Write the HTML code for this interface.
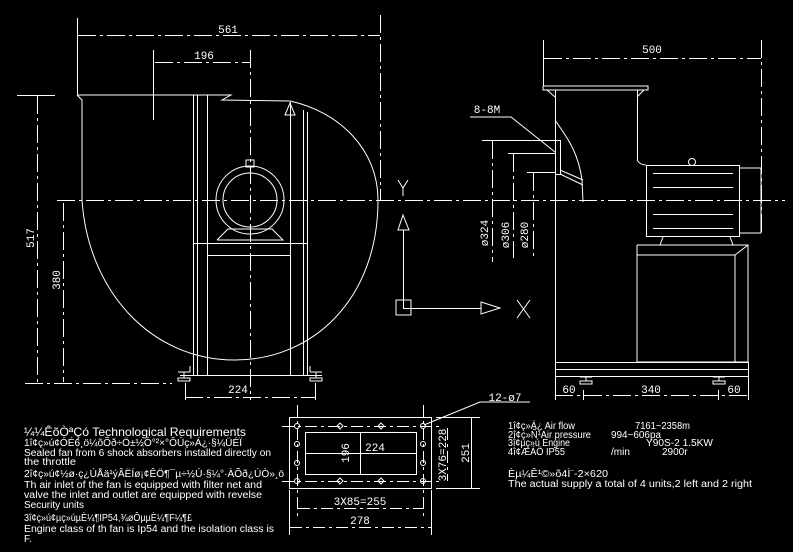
<!DOCTYPE html>
<html><head><meta charset="utf-8"><style>
html,body{margin:0;padding:0;background:#000;width:793px;height:552px;overflow:hidden}
svg{display:block}
text{font-family:"Liberation Sans",sans-serif;fill:#fff}
.d{font-family:"Liberation Mono",monospace;font-size:11px}
</style></head><body>
<svg width="793" height="552" viewBox="0 0 793 552" xmlns="http://www.w3.org/2000/svg">
<g stroke="#fff" stroke-width="1" fill="none">
<line x1="57" y1="200.5" x2="785" y2="200.5" stroke-dasharray="18,4,3,4"/>
<line x1="250.5" y1="50" x2="250.5" y2="400" stroke-dasharray="18,4,3,4"/>
<line x1="77.5" y1="18" x2="77.5" y2="95"/>
<line x1="380.5" y1="15" x2="380.5" y2="200" stroke-dasharray="18,4,3,4"/>
<line x1="78" y1="35.5" x2="380" y2="35.5" stroke-dasharray="18,4,3,4"/>
<line x1="153.5" y1="50" x2="153.5" y2="120"/>
<line x1="155" y1="62.5" x2="250" y2="62.5" stroke-dasharray="18,4,3,4"/>
<line x1="17" y1="95.5" x2="55" y2="95.5"/>
<line x1="37.5" y1="96" x2="37.5" y2="382" stroke-dasharray="18,4,3,4"/>
<line x1="63.5" y1="203" x2="63.5" y2="382" stroke-dasharray="18,4,3,4"/>
<line x1="25" y1="383.5" x2="172" y2="383.5" stroke-dasharray="18,4,3,4"/>
<line x1="185" y1="397.5" x2="315" y2="397.5" stroke-dasharray="18,4,3,4"/>
<line x1="185.5" y1="383" x2="185.5" y2="400"/>
<line x1="315.5" y1="383" x2="315.5" y2="400"/>
<polyline points="77,95 231,95 222,100 290,101"/>
<polyline points="77,95 82,100 82,200"/>
<path d="M290,101 C340,112 378,150 378,200 C378,300 312,360 235,360 C150,360 88,290 82,200"/>
<line x1="193.5" y1="95" x2="193.5" y2="376"/>
<line x1="197.5" y1="95" x2="197.5" y2="376"/>
<line x1="207.5" y1="95" x2="207.5" y2="376"/>
<line x1="290.5" y1="102" x2="290.5" y2="376"/>
<line x1="303.5" y1="110" x2="303.5" y2="376"/>
<line x1="307.5" y1="112" x2="307.5" y2="376"/>
<line x1="193" y1="243.5" x2="307" y2="243.5"/>
<line x1="207" y1="255.5" x2="290" y2="255.5"/>
<line x1="180" y1="375.5" x2="322" y2="375.5"/>
<polygon points="285,115 290,103 295,115"/>
<circle cx="250" cy="200" r="34"/>
<circle cx="250" cy="200" r="27"/>
<polyline points="217,240 228,229 272,229 283,240 217,240"/>
<rect x="246" y="160" width="8" height="7"/>
<path d="M178,372 h12 v-6 M184,372 v6 h-6 v3 h12 v-3 h-6"/>
<path d="M310,372 h12 M316,372 v6 h-6 v3 h12 v-3 h-6 M310,372 v-6"/>
<line x1="403.5" y1="230" x2="403.5" y2="308"/>
<polygon points="398,230 403,215 409,230"/>
<rect x="396" y="300" width="15" height="15"/>
<line x1="403" y1="308.5" x2="481" y2="308.5"/>
<polygon points="481,302 500,308 481,314"/>
<path d="M517,300 L530,318 M530,300 L517,318"/>
<path d="M398,180 L403,188 L408,180 M403,188 V196"/>
<line x1="543.5" y1="40" x2="543.5" y2="86"/>
<line x1="761.5" y1="40" x2="761.5" y2="233" stroke-dasharray="18,4,3,4"/>
<line x1="544" y1="58.5" x2="761" y2="58.5" stroke-dasharray="18,4,3,4"/>
<polyline points="543,86 648,86 648,90 543,90 543,86"/>
<path d="M547,90 L555,97 M644,90 L637,97"/>
<line x1="555.5" y1="90" x2="555.5" y2="362"/>
<line x1="637.5" y1="90" x2="637.5" y2="160"/>
<path d="M637,160 Q640,165 646,165"/>
<rect x="646.5" y="165.5" width="93" height="71"/>
<path d="M740,168 H761 V233 H740"/>
<line x1="653" y1="173.5" x2="733" y2="173.5"/>
<line x1="653" y1="187.5" x2="733" y2="187.5"/>
<line x1="653" y1="214.5" x2="733" y2="214.5"/>
<line x1="653" y1="228.5" x2="733" y2="228.5"/>
<circle cx="692" cy="162" r="3.5"/>
<path d="M663,237 L660,245 M730,237 L733,245"/>
<polyline points="637,245 748,245 748,362 637,362 637,245"/>
<polyline points="637,255 735,255 735,362"/>
<line x1="735" y1="255" x2="748" y2="245"/>
<rect x="555.5" y="362.5" width="193" height="14"/>
<line x1="555" y1="369.5" x2="748" y2="369.5"/>
<path d="M580,377 h12 M586,377 v4 h-6 v3 h12 v-3 h-6 M713,377 h12 M719,377 v4 h-6 v3 h12 v-3 h-6"/>
<line x1="555.5" y1="377" x2="555.5" y2="400"/>
<line x1="748.5" y1="377" x2="748.5" y2="400"/>
<line x1="555" y1="395.5" x2="748" y2="395.5" stroke-dasharray="18,4,3,4"/>
<line x1="583.5" y1="390" x2="583.5" y2="400"/>
<line x1="718.5" y1="390" x2="718.5" y2="400"/>
<path d="M555,120 C565,135 578,150 582,180 L583,202"/>
<rect x="555.5" y="140.5" width="5" height="34"/>
<path d="M560,170 L583,180 M560,174 L583,185"/>
<polyline points="470,117 511,117 555,152"/>
<line x1="482" y1="140.5" x2="555" y2="140.5"/>
<line x1="508" y1="153.5" x2="555" y2="153.5"/>
<line x1="527" y1="172.5" x2="555" y2="172.5"/>
<line x1="492.5" y1="141" x2="492.5" y2="262" stroke-dasharray="18,4,3,4"/>
<line x1="513.5" y1="154" x2="513.5" y2="258" stroke-dasharray="18,4,3,4"/>
<line x1="533.5" y1="173" x2="533.5" y2="258" stroke-dasharray="18,4,3,4"/>
<rect x="289.5" y="417.5" width="142" height="71"/>
<rect x="305.5" y="432.5" width="111" height="42"/>
<line x1="360.5" y1="432" x2="360.5" y2="474"/>
<line x1="305" y1="453.5" x2="416" y2="453.5"/>
<line x1="282" y1="426.5" x2="440" y2="426.5" stroke-dasharray="12,4,3,4"/>
<line x1="282" y1="481.5" x2="440" y2="481.5" stroke-dasharray="12,4,3,4"/>
<line x1="297.5" y1="405" x2="297.5" y2="520" stroke-dasharray="12,4,3,4"/>
<line x1="423.5" y1="405" x2="423.5" y2="520" stroke-dasharray="12,4,3,4"/>
<circle cx="297" cy="426" r="2.5"/><circle cx="297" cy="444" r="2.5"/><circle cx="297" cy="463" r="2.5"/><circle cx="297" cy="481" r="2.5"/>
<circle cx="423" cy="426" r="2.5"/><circle cx="423" cy="444" r="2.5"/><circle cx="423" cy="463" r="2.5"/><circle cx="423" cy="481" r="2.5"/>
<path d="M340,423 l3,3 -3,3 -3,-3z M381,423 l3,3 -3,3 -3,-3z M340,478 l3,3 -3,3 -3,-3z M381,478 l3,3 -3,3 -3,-3z"/>
<polyline points="424,425 480,402 530,402"/>
<line x1="447.5" y1="428" x2="447.5" y2="481" stroke-dasharray="12,4,3,4"/>
<line x1="471.5" y1="418" x2="471.5" y2="488"/>
<line x1="436" y1="417.5" x2="480" y2="417.5"/>
<line x1="436" y1="488.5" x2="480" y2="488.5"/>
<line x1="298" y1="508.5" x2="423" y2="508.5" stroke-dasharray="12,4,3,4"/>
<line x1="289.5" y1="490" x2="289.5" y2="535"/>
<line x1="431.5" y1="490" x2="431.5" y2="535"/>
<line x1="290" y1="527.5" x2="431" y2="527.5" stroke-dasharray="12,4,3,4"/>
</g>
<text class="d" x="228" y="33" text-anchor="middle">561</text>
<text class="d" x="204" y="59" text-anchor="middle">196</text>
<text class="d" x="238" y="393" text-anchor="middle">224</text>
<text class="d" transform="translate(34,238) rotate(-90)" text-anchor="middle">517</text>
<text class="d" transform="translate(60,280) rotate(-90)" text-anchor="middle">380</text>
<text class="d" x="652" y="53" text-anchor="middle">500</text>
<text class="d" x="487" y="113" text-anchor="middle" font-size="10">8-8M</text>
<text class="d" transform="translate(488,233) rotate(-90)" text-anchor="middle" font-size="10">ø324</text>
<text class="d" transform="translate(509,235) rotate(-90)" text-anchor="middle" font-size="10">ø306</text>
<text class="d" transform="translate(528,235) rotate(-90)" text-anchor="middle" font-size="10">ø280</text>
<text class="d" x="569" y="393" text-anchor="middle">60</text>
<text class="d" x="651" y="393" text-anchor="middle">340</text>
<text class="d" x="734" y="393" text-anchor="middle">60</text>
<text class="d" x="505" y="401" text-anchor="middle">12-ø7</text>
<text class="d" x="375" y="451" text-anchor="middle">224</text>
<text class="d" transform="translate(349,453) rotate(-90)" text-anchor="middle">196</text>
<text class="d" transform="translate(446,455) rotate(-90)" text-anchor="middle" font-size="10">3X76=228</text>
<text class="d" transform="translate(469,453) rotate(-90)" text-anchor="middle">251</text>
<text class="d" x="360" y="505" text-anchor="middle">3X85=255</text>
<text class="d" x="360" y="524" text-anchor="middle">278</text>
<g font-size="10">
<text x="24" y="436" font-size="12" textLength="222" lengthAdjust="spacingAndGlyphs">¼¼ÊõÒªÇó   Technological Requirements</text>
<text x="24" y="446" textLength="218" lengthAdjust="spacingAndGlyphs">1î¢ç»ú¢ÓÉ6¸ö¼õÕð÷Ö±½Ó°²×°ÔÚç»Á¿·§¼ÜÉÏ</text>
<text x="24" y="456" textLength="247" lengthAdjust="spacingAndGlyphs">Sealed fan from 6 shock absorbers installed directly on</text>
<text x="24" y="465" textLength="52" lengthAdjust="spacingAndGlyphs">the throttle</text>
<text x="24" y="477" textLength="260" lengthAdjust="spacingAndGlyphs">2î¢ç»ú¢½ø·ç¿ÚÅä¹ýÂËÍø¡¢ÊÖ¶¯µ÷½Ú·§¼°·ÀÕð¿ÚÒ»¸ö</text>
<text x="24" y="488" textLength="238" lengthAdjust="spacingAndGlyphs">Th air inlet of the fan is equipped with filter net and</text>
<text x="24" y="498" textLength="238" lengthAdjust="spacingAndGlyphs">valve the inlet and outlet are equipped with revelse</text>
<text x="24" y="508" textLength="60" lengthAdjust="spacingAndGlyphs">Security units</text>
<text x="24" y="521" textLength="168" lengthAdjust="spacingAndGlyphs">3î¢ç»ú¢µç»úµÈ¼¶IP54,¾øÔµµÈ¼¶F¼¶£</text>
<text x="24" y="532" textLength="250" lengthAdjust="spacingAndGlyphs">Engine class of th fan is Ip54 and the isolation class is</text>
<text x="24" y="542">F.</text>
<text x="508" y="429" textLength="67" lengthAdjust="spacingAndGlyphs">1î¢ç»Á¿ Air flow</text>
<text x="635" y="429" textLength="55" lengthAdjust="spacingAndGlyphs">7161~2358m</text>
<text x="508" y="438" textLength="83" lengthAdjust="spacingAndGlyphs">2î¢ç»Ñ¹Air pressure</text>
<text x="611" y="438" textLength="50" lengthAdjust="spacingAndGlyphs">994~606pa</text>
<text x="508" y="446" textLength="62" lengthAdjust="spacingAndGlyphs">3î¢µç»ú Engine</text>
<text x="646" y="446" textLength="67" lengthAdjust="spacingAndGlyphs">Y90S-2  1.5KW</text>
<text x="508" y="455" textLength="57" lengthAdjust="spacingAndGlyphs">4î¢ÆÁÖ IP55</text>
<text x="611" y="455">/min</text>
<text x="662" y="455">2900r</text>
<text x="508" y="477" textLength="100" lengthAdjust="spacingAndGlyphs">Èµ¼Ê¹©»õ4Ì¨-2×620</text>
<text x="508" y="487" textLength="244" lengthAdjust="spacingAndGlyphs">The actual supply a total of 4 units,2 left and 2 right</text>
</g>
</svg>
</body></html>
